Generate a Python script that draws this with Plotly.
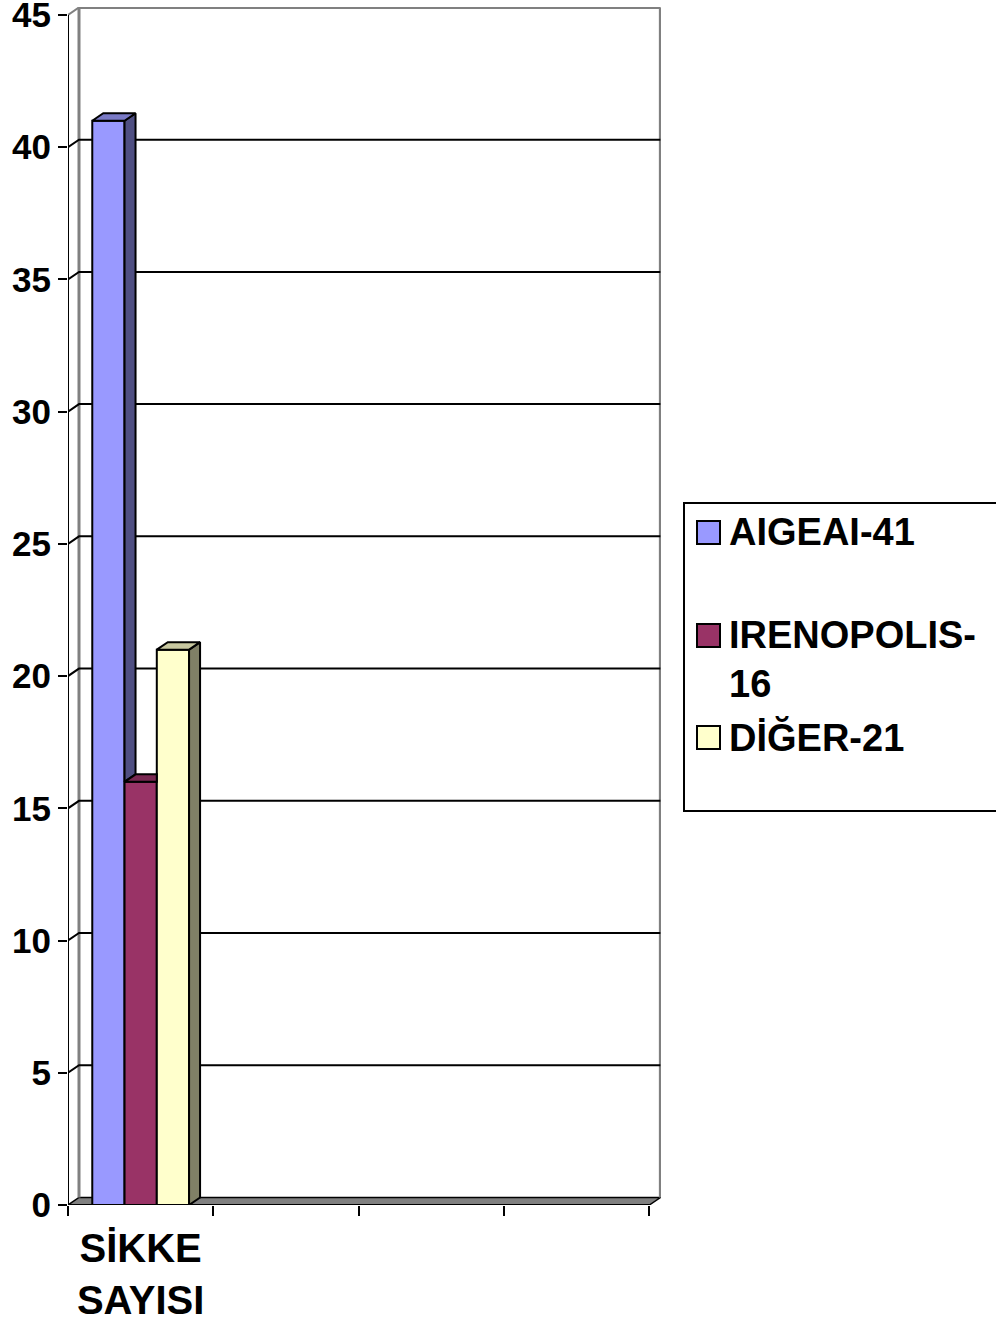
import plotly.graph_objects as go

# ---- data ----
categories = ["SİKKE<br>SAYISI"]
series_names = ["AIGEAI-41", "IRENOPOLIS-<br>16", "DİĞER-21"]
series_values = [41, 16, 21]
y_ticks = [0, 5, 10, 15, 20, 25, 30, 35, 40, 45]

front_colors = ["#9999FF", "#993366", "#FFFFCC"]
top_colors = ["#7A7AC6", "#7A2952", "#C8C8A0"]
side_colors = ["#4F4F82", "#5C1F3D", "#808066"]

# ---- layout constants (pixels) ----
W, H = 996, 1323
ML, MR, MT, MB = 68, 335, 7, 118
n_slots = 4
x_max = 4.08
y_max = 45.3
ppx = (W - ML - MR) / x_max
ppy = (H - MT - MB) / y_max
dx = 11 / ppx      # depth offset in x (data units)
dy = 7.5 / ppy     # depth offset in y (data units)
bw = 0.222         # bar width (data units)

FONT = "Liberation Sans, Arial, sans-serif"

fig = go.Figure()

# bar geometry
bars = []
for i, (name, v) in enumerate(zip(series_names, series_values)):
    c = 0 + 0.5 + (i - 1) * bw
    bars.append((c - bw / 2, c + bw / 2, v))

for i, (x0, x1, v) in enumerate(bars):
    nxt = series_values[i + 1] if i + 1 < len(bars) else 0
    # front face (real bar)
    fig.add_trace(go.Bar(
        x=[(x0 + x1) / 2], y=[v], width=[bw],
        marker=dict(color=front_colors[i], line=dict(color="black", width=2)),
        showlegend=False, hoverinfo="skip"))
    # side face (visible only above next bar)
    if v > nxt:
        lo = nxt
        fig.add_trace(go.Scatter(
            x=[x1, x1 + dx, x1 + dx, x1, x1],
            y=[lo, lo + dy, v + dy, v, lo],
            mode="lines", fill="toself", fillcolor=side_colors[i],
            line=dict(color="black", width=2), showlegend=False, hoverinfo="skip"))
        xs = [x0, x0 + dx, x1 + dx, x1, x0]
    else:
        xs = [x0, x0 + dx, x1, x1, x0]
    ys = [v, v + dy, v + dy, v, v]
    # top face
    fig.add_trace(go.Scatter(
        x=xs, y=ys, mode="lines", fill="toself", fillcolor=top_colors[i],
        line=dict(color="black", width=2), showlegend=False, hoverinfo="skip"))

shapes = []
# floor
shapes.append(dict(type="path", xref="x", yref="y", layer="below",
                   path=f"M 0 0 L {n_slots} 0 L {n_slots+dx} {dy} L {dx} {dy} Z",
                   fillcolor="#808080", line=dict(color="black", width=1.5)))
# back wall
gray = "#808080"
shapes.append(dict(type="line", xref="x", yref="y", layer="below", x0=dx, x1=dx, y0=dy, y1=45 + dy,
                   line=dict(color=gray, width=3)))
shapes.append(dict(type="line", xref="x", yref="y", layer="below", x0=n_slots + dx, x1=n_slots + dx,
                   y0=dy, y1=45 + dy, line=dict(color=gray, width=3)))
shapes.append(dict(type="line", xref="x", yref="y", layer="below", x0=dx, x1=n_slots + dx,
                   y0=45 + dy, y1=45 + dy, line=dict(color=gray, width=3)))
shapes.append(dict(type="line", xref="x", yref="y", layer="below", x0=0, x1=dx,
                   y0=45, y1=45 + dy, line=dict(color=gray, width=2)))
# gridlines
for t in y_ticks[1:-1]:
    shapes.append(dict(type="path", xref="x", yref="y", layer="below",
                       path=f"M 0 {t} L {dx} {t+dy} L {n_slots+dx} {t+dy}",
                       line=dict(color="black", width=2)))
# front axis lines
shapes.append(dict(type="line", xref="x", yref="y", layer="below", x0=0, x1=0, y0=0, y1=45,
                   line=dict(color="black", width=2)))
shapes.append(dict(type="line", xref="x", yref="y", layer="above", x0=0, x1=n_slots, y0=0, y1=0,
                   line=dict(color="black", width=2)))

# ---- manual legend ----
pw = W - ML - MR
ph = H - MT - MB
def px_x(p): return (p - ML) / pw
def px_y(p): return (H - MB - p) / ph

shapes.append(dict(type="rect", xref="paper", yref="paper",
                   x0=px_x(684), x1=px_x(1005), y0=px_y(811), y1=px_y(503),
                   line=dict(color="black", width=2), fillcolor="white"))
legend_rows = [533, 636, 738]
annotations = []
for i, name in enumerate(series_names):
    yc = legend_rows[i]
    shapes.append(dict(type="rect", xref="paper", yref="paper",
                       x0=px_x(697), x1=px_x(720), y0=px_y(yc + 11), y1=px_y(yc - 12),
                       fillcolor=front_colors[i], line=dict(color="black", width=2)))
    annotations.append(dict(xref="paper", yref="paper", x=px_x(727), y=px_y(yc - 24),
                            xanchor="left", yanchor="top", align="left", showarrow=False,
                            text=name, font=dict(family=FONT, size=38, color="black", weight="bold")))

fig.update_layout(
    width=W, height=H,
    margin=dict(l=ML, r=MR, t=MT, b=MB, autoexpand=False),
    paper_bgcolor="white", plot_bgcolor="white",
    barmode="overlay", showlegend=False,
    shapes=shapes, annotations=annotations,
    xaxis=dict(range=[0, x_max], tickvals=[0.5], ticktext=categories, ticks="",
               showgrid=False, zeroline=False, showline=False, automargin=False,
               tickfont=dict(family=FONT, size=40, color="black", weight="bold"),
               ticklabelstandoff=16, ticklabeloverflow="allow",
               minor=dict(tickvals=list(range(n_slots + 1)), ticks="outside", ticklen=10,
                          tickwidth=2, tickcolor="black", showgrid=False)),
    yaxis=dict(range=[0, y_max], tickvals=y_ticks, ticks="outside", ticklen=9, tickwidth=2,
               tickcolor="black", showgrid=False, zeroline=False, showline=False, automargin=False,
               tickfont=dict(family=FONT, size=35, color="black", weight="bold"),
               ticklabelstandoff=0, ticklabeloverflow="allow"),
)

fig.write_html("out.html", config={"displayModeBar": False},
               post_script="document.body.style.margin='0';document.body.style.overflow='hidden';")
